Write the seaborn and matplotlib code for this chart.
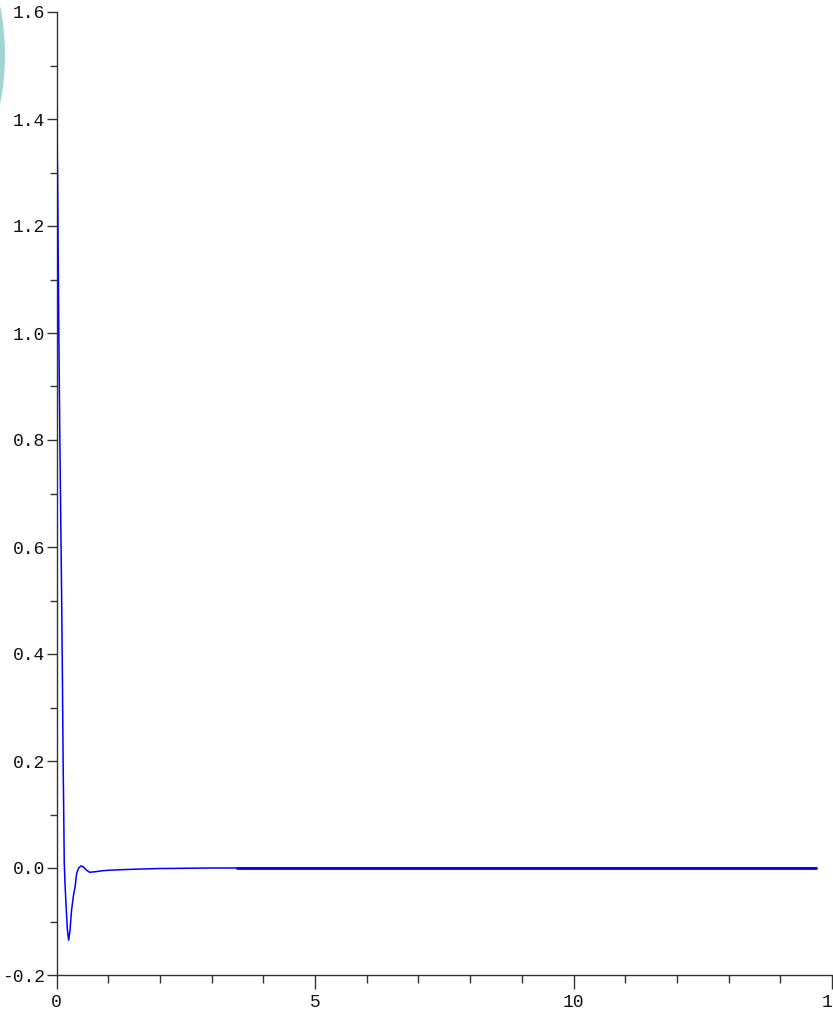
import numpy as np
import pandas as pd
import matplotlib
matplotlib.use("Agg")
import matplotlib.pyplot as plt
from matplotlib.patches import Circle
from matplotlib.ticker import MultipleLocator, FixedLocator
from matplotlib.transforms import IdentityTransform
import seaborn as sns

# Response samples: time (s) and amplitude
time = [0.0, 0.02, 0.045, 0.065, 0.085, 0.10, 0.115, 0.128, 0.14, 0.15,
        0.165, 0.185, 0.21, 0.235, 0.26, 0.29, 0.33, 0.36, 0.39, 0.43,
        0.475, 0.52, 0.58, 0.64, 0.75, 0.90, 1.05, 1.3, 1.6, 2.0,
        2.5, 3.0, 3.5, 5.0, 8.0, 11.0, 14.7]
amplitude = [1.42, 1.30, 1.00, 0.80, 0.63, 0.50, 0.35, 0.20, 0.10, 0.01,
             -0.03, -0.07, -0.115, -0.135, -0.118, -0.08, -0.05, -0.035, -0.01, 0.0,
             0.004, 0.002, -0.004, -0.008, -0.007, -0.005, -0.004, -0.003, -0.002, -0.001,
             -0.0005, 0.0, 0.0, 0.0, 0.0, 0.0, 0.0]

x_ticks = [0, 5, 10, 15]
y_ticks = [-0.2, 0.0, 0.2, 0.4, 0.6, 0.8, 1.0, 1.2, 1.4, 1.6]

df = pd.DataFrame({"t": time, "y": amplitude})
tail = df[df["t"] >= 3.5]

sns.set_style("white")
plt.rcParams["font.family"] = ["Liberation Mono", "DejaVu Sans Mono"]

W, H = 833, 1023
fig = plt.figure(figsize=(W / 100, H / 100), dpi=100)
left = 56.5 / W
right = 832.0 / W
bottom = 48.0 / H
top = 1011.0 / H
ax = fig.add_axes([left, bottom, right - left, top - bottom])

sns.lineplot(data=df, x="t", y="y", ax=ax, color="#0000ff", linewidth=1.1,
             estimator=None, sort=False, zorder=3)
sns.lineplot(data=tail, x="t", y="y", ax=ax, color="#0000ff", linewidth=2.0,
             estimator=None, sort=False, zorder=3)

ax.set_xlim(0, 15)
ax.set_ylim(-0.2, 1.6)
ax.set_xlabel("")
ax.set_ylabel("")

for side in ("top", "right"):
    ax.spines[side].set_visible(False)
for side in ("left", "bottom"):
    ax.spines[side].set_color("#333333")
    ax.spines[side].set_linewidth(1.0)
    ax.spines[side].set_zorder(2)

ax.xaxis.set_major_locator(FixedLocator(x_ticks))
ax.xaxis.set_minor_locator(MultipleLocator(1))
ax.yaxis.set_major_locator(FixedLocator(y_ticks))
ax.yaxis.set_minor_locator(MultipleLocator(0.1))
ax.set_xticklabels([str(v) for v in x_ticks])
ax.set_yticklabels([f"{v:.1f}" for v in y_ticks])

ax.tick_params(axis="x", which="major", direction="out", length=10, width=1.0,
               color="#333333", labelsize=13, pad=4, bottom=True)
ax.tick_params(axis="x", which="minor", direction="out", length=5.5, width=1.0,
               color="#333333", bottom=True)
ax.tick_params(axis="y", which="major", direction="out", length=7, width=1.0,
               color="#333333", labelsize=13, pad=1, left=True)
ax.tick_params(axis="y", which="minor", direction="out", length=5, width=1.0,
               color="#333333", left=True)
for lab in ax.get_xticklabels() + ax.get_yticklabels():
    lab.set_color("#111111")
ax.set_clip_on(False)

# Decorative teal disc peeking in at the top-left corner
disc = Circle((-245, H - 55), 250, transform=IdentityTransform(),
              facecolor="#a3d4d4", edgecolor="none")
fig.patches.append(disc)

fig.savefig("out.png", dpi=100)
